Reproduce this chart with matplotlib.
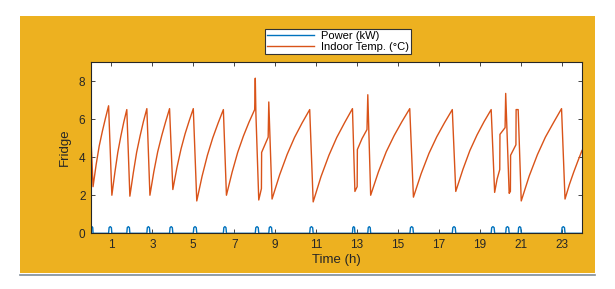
import matplotlib
matplotlib.use("Agg")
import matplotlib.pyplot as plt
from matplotlib.patches import Rectangle
from matplotlib.lines import Line2D

plt.rcParams['font.family'] = ['Liberation Sans', 'DejaVu Sans']

# Indoor temperature (°C) readings
temp_t = [0.0, 0.1, 0.25, 0.40, 0.56, 0.71, 0.86,
          1.02, 1.17, 1.31, 1.46, 1.60, 1.75,
          1.9, 2.07, 2.23, 2.40, 2.56, 2.73,
          2.88, 3.07, 3.26, 3.46, 3.65, 3.84,
          4.0, 4.2, 4.4, 4.6, 4.8, 5.0,
          5.17, 5.43, 5.69, 5.95, 6.21, 6.47,
          6.62, 6.90, 7.17, 7.45, 7.72, 8.0, 8.03, 8.06, 8.2,
          8.33, 8.34, 8.66, 8.69, 8.85,
          9.22, 9.59, 9.95, 10.32, 10.69,
          10.86, 11.24, 11.63, 12.01, 12.40, 12.78,
          12.9, 13.01, 13.02, 13.25, 13.49, 13.53, 13.67,
          14.05, 14.43, 14.82, 15.20, 15.58,
          15.76, 16.14, 16.52, 16.90, 17.28, 17.66,
          17.83, 18.18, 18.52, 18.87, 19.21, 19.56,
          19.73, 19.85, 19.98, 19.99, 20.24, 20.27, 20.44, 20.5, 20.51, 20.77,
          20.78, 20.88, 21.03,
          21.42, 21.82, 22.21, 22.61, 23.0,
          23.17, 23.38, 23.59, 23.8, 24.0]
temp_v = [5.0, 2.45, 3.60, 4.58, 5.38, 6.06, 6.7,
          2.0, 3.22, 4.25, 5.11, 5.83, 6.5,
          1.95, 3.19, 4.25, 5.12, 5.86, 6.55,
          2.0, 3.23, 4.28, 5.14, 5.87, 6.55,
          2.3, 3.45, 4.43, 5.23, 5.91, 6.55,
          1.7, 3.0, 4.1, 5.01, 5.78, 6.5,
          2.0, 3.22, 4.25, 5.11, 5.83, 6.5, 8.15, 6.3, 1.75,
          2.35, 4.25, 5.05, 6.9, 1.8,
          3.07, 4.15, 5.04, 5.80, 6.5,
          1.65, 2.97, 4.10, 5.03, 5.82, 6.55,
          2.2, 2.45, 4.4, 4.98, 5.45, 7.28, 2.0,
          3.23, 4.28, 5.14, 5.87, 6.55,
          1.9, 3.14, 4.2, 5.07, 5.81, 6.5,
          2.2, 3.36, 4.35, 5.17, 5.86, 6.5,
          2.15, 2.85, 3.35, 5.2, 5.55, 7.35, 2.1, 2.2, 4.1, 4.65,
          6.5, 6.5, 1.7,
          3.01, 4.13, 5.05, 5.82, 6.55,
          1.8, 2.55, 3.2, 3.8, 4.35]

# Compressor power (kW) pulses
pulse_start = [0.0, 0.86, 1.75, 2.73, 3.84, 5.0, 6.47, 8.03, 8.69, 10.69,
               12.78, 13.53, 15.59, 17.66, 19.56, 20.27, 20.88, 23.0]
pulse_end = [0.1, 1.02, 1.9, 2.88, 4.0, 5.17, 6.62, 8.2, 8.85, 10.86,
             12.9, 13.67, 15.76, 17.83, 19.73, 20.44, 21.03, 23.17]
pulse_kw = 0.35

x_ticks = [1, 3, 5, 7, 9, 11, 13, 15, 17, 19, 21, 23]
y_ticks = [0, 2, 4, 6, 8]

blue = '#0072BD'
red = '#D95319'
orange_bg = '#EDB120'
dark = '#262626'

fig = plt.figure(figsize=(6.15, 2.89), dpi=100)
fig.patch.set_facecolor('white')
fig.patches.append(Rectangle((20 / 615, 1 - 273 / 289), 575 / 615, 257 / 289,
                             transform=fig.transFigure, facecolor=orange_bg,
                             edgecolor='none', zorder=-10))
fig.lines.append(Line2D([20 / 615, 595 / 615], [1 - 274.5 / 289] * 2,
                        transform=fig.transFigure, color='#7f8c99', lw=1.2))

ax = fig.add_axes([91 / 615, 1 - 233.3 / 289, 491 / 615, 171.3 / 289])

# Build power trace from pulses
pt, pv = [0.0], [0.0]
for s, e in zip(pulse_start, pulse_end):
    w = e - s
    pt += [s, s + 0.15 * w, s + 0.5 * w, e - 0.15 * w, e]
    pv += [0.0, pulse_kw * 0.85, pulse_kw, pulse_kw * 0.85, 0.0]
pt.append(24.0)
pv.append(0.0)

ax.plot(pt, pv, color=blue, lw=1.0, label='Power (kW)')
ax.plot(temp_t, temp_v, color=red, lw=1.0, label='Indoor Temp. (°C)')

ax.set_xlim(0, 24)
ax.set_ylim(0, 9)
ax.set_xticks(x_ticks)
ax.set_yticks(y_ticks)
ax.tick_params(direction='in', length=3, width=0.6, colors=dark, labelsize=8.5,
               top=True, right=True, pad=4)
for sp in ax.spines.values():
    sp.set_color(dark)
    sp.set_linewidth(0.8)
ax.set_xlabel('Time (h)', fontsize=9.5, color=dark, labelpad=2)
ax.set_ylabel('Fridge', fontsize=9.5, color=dark, labelpad=6)

leg = fig.legend(loc='upper center', bbox_to_anchor=(338 / 615, 1 - 28.5 / 289),
                 fontsize=8, frameon=True, fancybox=False, framealpha=1,
                 edgecolor='#333333', handlelength=4.2, borderpad=0.2,
                 labelspacing=0.1, handletextpad=0.6, borderaxespad=0)
leg.get_frame().set_linewidth(0.8)

fig.savefig('out.png', dpi=100, facecolor=fig.get_facecolor())
